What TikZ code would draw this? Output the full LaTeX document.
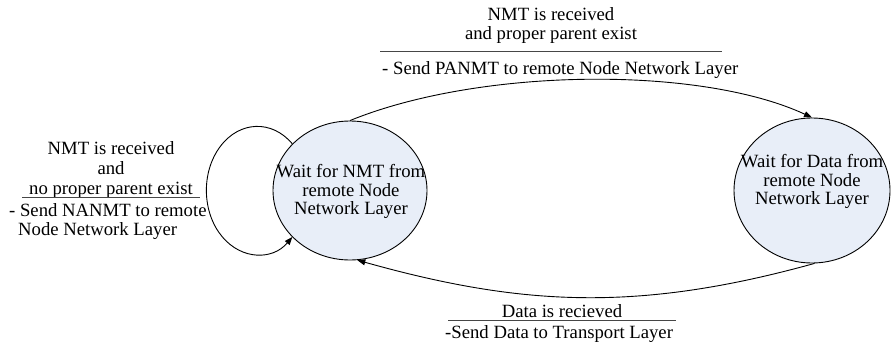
\documentclass[tikz,border=0pt]{standalone}
\usepackage{fontspec}
\setmainfont{Liberation Serif}
\usetikzlibrary{arrows.meta,shapes.geometric}
\definecolor{statefill}{RGB}{232,238,248}
\definecolor{rulegray}{RGB}{70,70,70}

\begin{document}
\begin{tikzpicture}[x=1pt,y=-1pt,
  state/.style={ellipse,draw,line width=0.9pt,fill=statefill,inner sep=0pt},
  lbl/.style={font=\fontsize{18.7}{18.5}\selectfont,inner sep=0pt,align=center},
  lbll/.style={font=\fontsize{18.7}{18.5}\selectfont,inner sep=0pt,align=left},
  trans/.style={draw,line width=0.9pt,-{Triangle[length=8pt,width=6pt]}},
  rulebar/.style={draw,line width=0.9pt,rulegray}]
\useasboundingbox (0,0) rectangle (891,342);

% states
\node[state,minimum width=154pt,minimum height=139pt] (L) at (350,190.5) {};
\node[state,minimum width=156pt,minimum height=145pt] (R) at (812,190.5) {};
\node[lbl] (Ltext) at (351,191.5) {Wait for NMT from\\remote Node\\Network Layer};
\node[lbl] (Rtext) at (812,181.5) {Wait for Data from\\remote Node\\Network Layer};

% self loop on the first state
\draw[trans] (L.141) arc[start angle=-46.7, end angle=-313.3, x radius=51, y radius=64];

% first state -> second state
\draw[trans] (L.north) .. controls +(130,-53) and +(-112,-52) .. (R.north);

% second state -> first state
\draw[trans] (R.272) .. controls +(-177,49) and +(164,46) .. (L.276);

% label of the self loop
\node[lbl] (loopcond) at (111,169.6) {NMT is received\\[1.5pt]and\\[1.5pt]no proper parent exist};
\draw[rulebar] (22,197.3) -- (200,197.3);
\node[lbll,anchor=west] (loopact) at (9,221.4) {- Send NANMT to remote\\\hspace{9pt}Node Network Layer};

% label of the upper transition
\node[lbl] (topcond) at (551,25.6) {NMT is received\\and proper parent exist};
\draw[rulebar] (380,51.7) -- (722,51.7);
\node[lbl,anchor=west] (topact) at (382,69.6) {- Send PANMT to remote Node Network Layer};

% label of the lower transition
\node[lbl] (botcond) at (562,311.6) {Data is recieved};
\draw[rulebar] (448,320) -- (676,320);
\node[lbl,anchor=west] (botact) at (445,333.6) {-Send Data to Transport Layer};
\end{tikzpicture}
\end{document}
